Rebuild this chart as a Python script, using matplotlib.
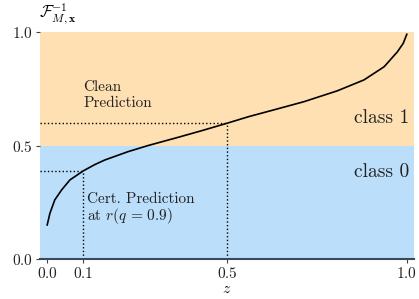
import matplotlib
matplotlib.use("Agg")
import matplotlib.pyplot as plt

plt.rcParams['font.family'] = ['cmr10', 'DejaVu Serif']
plt.rcParams['mathtext.fontset'] = 'cm'
plt.rcParams['axes.formatter.use_mathtext'] = True

# Curve: z -> F^{-1}_{M,x}(z)
z_vals = [0.0, 0.0075, 0.021, 0.04, 0.063, 0.1, 0.1325, 0.16, 0.225, 0.281,
          0.364, 0.429, 0.5, 0.56, 0.621, 0.714, 0.807, 0.881, 0.937, 0.974,
          0.99, 1.0]
f_vals = [0.150, 0.201, 0.260, 0.304, 0.348, 0.388, 0.416, 0.436, 0.473, 0.500,
          0.536, 0.565, 0.598, 0.627, 0.653, 0.693, 0.741, 0.789, 0.847, 0.913,
          0.950, 0.990]

xticks = [0.0, 0.1, 0.5, 1.0]
yticks = [0.0, 0.5, 1.0]
threshold = 0.5
cert_z, cert_f = 0.1, 0.388
clean_z, clean_f = 0.5, 0.598

fig = plt.figure(figsize=(4.19, 2.99), dpi=100)
ax = fig.add_axes([40/419, 1-259/299, 374/419, 227/299])

xmin, xmax = -0.02, 1.02
ax.axhspan(0, threshold, color='#BBDEFB', lw=0, zorder=0)
ax.axhspan(threshold, 1.0, color='#FFE0B2', lw=0, zorder=0)

ax.plot(z_vals, f_vals, color='black', lw=1.2, zorder=3, solid_joinstyle='round')

ax.hlines(cert_f, xmin, cert_z, colors='black', linestyles=':', lw=1.0, zorder=2)
ax.vlines(cert_z, 0, cert_f, colors='black', linestyles=':', lw=1.0, zorder=2)
ax.hlines(clean_f, xmin, clean_z, colors='black', linestyles=':', lw=1.0, zorder=2)
ax.vlines(clean_z, 0, clean_f, colors='black', linestyles=':', lw=1.0, zorder=2)

ax.set_xlim(xmin, xmax)
ax.set_ylim(0, 1.0)
ax.set_xticks(xticks)
ax.set_yticks(yticks)
ax.tick_params(labelsize=11, length=3, width=0.8, color='#444444', labelcolor='#222222', pad=2)

for s in ['top', 'right', 'left']:
    ax.spines[s].set_visible(False)
ax.spines['bottom'].set_color('#3b4a5a')
ax.spines['bottom'].set_linewidth(1.5)

ax.set_xlabel(r'$z$', fontsize=11, labelpad=1)
fig.text(58/419, 1-14/299, r'$\mathcal{F}_{M,\mathbf{x}}^{-1}$', fontsize=12,
         ha='center', va='center')

tc = '#222222'
ax.text(0.1, 0.742, 'Clean', fontsize=11, va='baseline', ha='left', color=tc)
ax.text(0.1, 0.668, 'Prediction', fontsize=11, va='baseline', ha='left', color=tc)
ax.text(0.111, 0.246, 'Cert. Prediction', fontsize=11, va='baseline', ha='left', color=tc)
ax.text(0.111, 0.17, r'at $r(q\,=\,0.9)$', fontsize=11, va='baseline', ha='left', color=tc)
ax.text(1.008, 0.597, 'class 1', fontsize=14, va='baseline', ha='right', color=tc)
ax.text(1.008, 0.36, 'class 0', fontsize=14, va='baseline', ha='right', color=tc)

fig.savefig('out.png', dpi=100)
